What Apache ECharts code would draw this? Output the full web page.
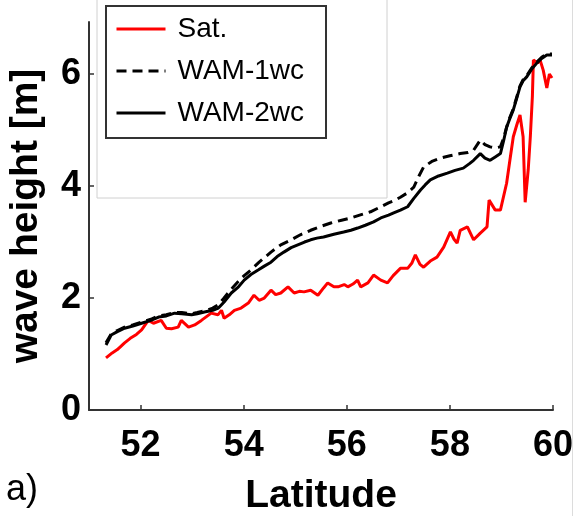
<!DOCTYPE html>
<html>
<head>
<meta charset="utf-8">
<script src="https://cdn.jsdelivr.net/npm/echarts@6/dist/echarts.min.js"></script>
<style>html,body{margin:0;padding:0;background:#fff;}#c{width:574px;height:516px;}</style>
</head>
<body>
<div id="c"></div>
<script>
var xTicks = [52, 54, 56, 58, 60];
var yTicks = [0, 2, 4, 6];

var satLat = [51.33,51.45,51.55,51.69,51.8,51.92,52.02,52.15,52.25,52.4,52.5,52.6,52.73,52.79,52.93,53.05,53.18,53.37,53.5,53.57,53.62,53.72,53.82,53.95,54.09,54.2,54.3,54.4,54.53,54.62,54.72,54.86,54.98,55.08,55.17,55.3,55.44,55.55,55.63,55.75,55.83,55.95,56.02,56.12,56.21,56.27,56.41,56.52,56.66,56.79,56.9,57.04,57.18,57.26,57.33,57.42,57.49,57.62,57.75,57.88,58.01,58.08,58.14,58.2,58.34,58.46,58.59,58.72,58.76,58.88,58.98,59.1,59.17,59.23,59.3,59.36,59.42,59.46,59.49,59.52,59.56,59.6,59.62,59.7,59.75,59.81,59.88,59.93,59.98];
var satHs  = [0.93,1.02,1.08,1.2,1.28,1.35,1.43,1.6,1.55,1.6,1.46,1.45,1.48,1.6,1.48,1.52,1.6,1.73,1.7,1.78,1.64,1.7,1.78,1.82,1.91,2.05,1.96,2.0,2.14,2.06,2.09,2.2,2.09,2.12,2.11,2.14,2.05,2.18,2.27,2.2,2.2,2.24,2.2,2.25,2.32,2.2,2.27,2.41,2.32,2.27,2.4,2.53,2.53,2.62,2.77,2.6,2.55,2.66,2.73,2.91,3.18,3.05,2.98,3.21,3.27,3.04,3.16,3.27,3.75,3.57,3.57,4.05,4.5,4.88,5.1,5.27,4.88,3.71,3.71,4.3,4.88,5.6,6.25,6.2,6.25,6.07,5.75,6.0,5.93];

var wam1Lat = [51.33,51.43,51.55,51.69,51.85,52.02,52.2,52.35,52.5,52.66,52.8,52.99,53.1,53.24,53.4,53.51,53.62,53.76,53.9,54.01,54.14,54.3,54.53,54.72,54.92,55.1,55.3,55.5,55.69,55.9,56.08,56.28,56.46,56.66,56.81,56.92,57.04,57.18,57.3,57.4,57.49,57.65,57.82,58.0,58.2,58.35,58.46,58.59,58.68,58.78,58.88,58.98,59.04,59.1,59.16,59.23,59.3,59.36,59.42,59.49,59.58,59.69,59.78,59.88,59.98];
var wam1Hs  = [1.2,1.36,1.42,1.48,1.52,1.57,1.62,1.68,1.7,1.74,1.74,1.72,1.74,1.77,1.82,1.88,2.0,2.16,2.3,2.4,2.5,2.64,2.82,2.95,3.04,3.13,3.21,3.28,3.34,3.39,3.43,3.49,3.54,3.63,3.7,3.74,3.8,3.88,3.98,4.18,4.34,4.44,4.5,4.54,4.58,4.6,4.64,4.82,4.74,4.7,4.68,4.7,4.85,5.05,5.22,5.38,5.6,5.79,5.9,5.97,6.1,6.22,6.3,6.36,6.36];

var wam2Lat = [51.33,51.43,51.55,51.69,51.85,52.02,52.2,52.35,52.5,52.66,52.8,52.99,53.1,53.24,53.4,53.51,53.62,53.76,53.9,54.01,54.14,54.28,54.4,54.53,54.65,54.78,54.92,55.05,55.18,55.3,55.42,55.55,55.75,55.94,56.08,56.21,56.36,56.52,56.66,56.81,56.91,57.04,57.18,57.3,57.43,57.52,57.62,57.78,57.95,58.1,58.26,58.38,58.46,58.59,58.68,58.78,58.88,58.98,59.04,59.1,59.16,59.23,59.3,59.36,59.42,59.49,59.58,59.69,59.78,59.88,59.98];
var wam2Hs  = [1.16,1.34,1.4,1.46,1.5,1.55,1.6,1.66,1.68,1.73,1.72,1.7,1.72,1.75,1.78,1.82,1.93,2.09,2.2,2.32,2.42,2.5,2.57,2.64,2.74,2.82,2.9,2.95,3.0,3.04,3.07,3.09,3.14,3.18,3.21,3.25,3.3,3.36,3.43,3.48,3.52,3.57,3.63,3.78,3.93,4.02,4.11,4.18,4.23,4.28,4.32,4.4,4.46,4.58,4.5,4.46,4.52,4.58,4.8,5.05,5.2,5.36,5.58,5.77,5.88,5.95,6.08,6.2,6.28,6.34,6.34];

function pairs(xs, ys) { return xs.map(function (x, i) { return [x, ys[i]]; }); }

var chart = echarts.init(document.getElementById('c'), null, {renderer: 'canvas'});
var axisFont = 'Liberation Sans, Arial, Helvetica, sans-serif';
chart.setOption({
  animation: false,
  backgroundColor: '#fff',
  grid: {left: 89, right: 21, top: 22, bottom: 106, containLabel: false, outerBoundsMode: 'none'},
  xAxis: {
    type: 'value', min: 51, max: 60,
    name: 'Latitude', nameLocation: 'middle', nameGap: 67,
    nameTextStyle: {fontFamily: axisFont, fontSize: 39, fontWeight: 'bold', color: '#000'},
    axisLine: {show: true, onZero: false, lineStyle: {color: '#333', width: 2}},
    axisTick: {show: true, inside: true, length: 5, customValues: xTicks, lineStyle: {color: '#333', width: 1.5}},
    axisLabel: {customValues: xTicks, fontFamily: axisFont, fontSize: 36, fontWeight: 'bold', color: '#000', margin: 18},
    splitLine: {show: false}
  },
  yAxis: {
    type: 'value', min: 0, max: 6.93,
    name: 'wave height [m]', nameLocation: 'middle', nameGap: 43, nameRotate: 90,
    nameTextStyle: {fontFamily: axisFont, fontSize: 39, fontWeight: 'bold', color: '#000'},
    axisLine: {show: true, onZero: false, lineStyle: {color: '#333', width: 2}},
    axisTick: {show: true, inside: true, length: 5, customValues: yTicks, lineStyle: {color: '#333', width: 1.5}},
    axisLabel: {customValues: yTicks, fontFamily: axisFont, fontSize: 36, fontWeight: 'bold', color: '#000', margin: 8},
    splitLine: {show: false}
  },
  legend: {
    left: 106, top: 6, orient: 'vertical',
    data: ['Sat.', 'WAM-1wc', 'WAM-2wc'],
    backgroundColor: '#fff', borderColor: '#333', borderWidth: 2, borderRadius: 0,
    padding: [9, 22, 11, 9],
    itemWidth: 49, itemHeight: 14, itemGap: 14,
    itemStyle: {opacity: 0},
    lineStyle: {width: 3},
    textStyle: {fontFamily: axisFont, fontSize: 28, color: '#000', padding: [0, 0, 0, 7]}
  },
  graphic: [
    {type: 'rect', z: -1, shape: {x: 97, y: -5, width: 290, height: 203}, style: {fill: 'none', stroke: '#d0d0d0', lineWidth: 1}},
    {type: 'line', z: -1, shape: {x1: 572.5, y1: 0, x2: 572.5, y2: 516}, style: {stroke: '#dcdcdc', lineWidth: 1}},
    {type: 'text', left: 6, top: 472, style: {text: 'a)', font: '36px ' + axisFont, fill: '#000'}}
  ],
  series: [
    {name: 'Sat.', type: 'line', data: pairs(satLat, satHs), symbol: 'none', lineStyle: {color: '#ff0000', width: 3}, itemStyle: {color: '#ff0000'}},
    {name: 'WAM-1wc', type: 'line', data: pairs(wam1Lat, wam1Hs), symbol: 'none', lineStyle: {color: '#000', width: 3, type: [10, 6]}, itemStyle: {color: '#000'}},
    {name: 'WAM-2wc', type: 'line', data: pairs(wam2Lat, wam2Hs), symbol: 'none', lineStyle: {color: '#000', width: 3}, itemStyle: {color: '#000'}}
  ]
});
</script>
</body>
</html>
